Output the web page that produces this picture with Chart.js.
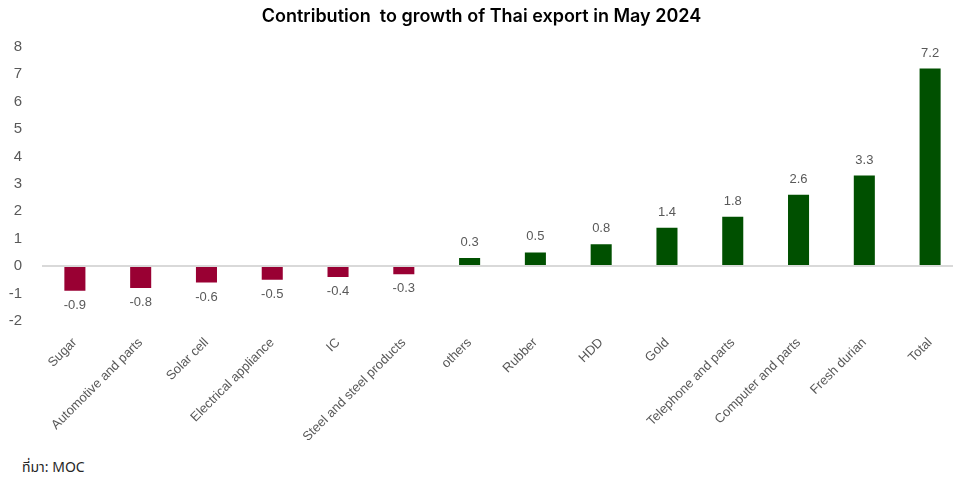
<!DOCTYPE html>
<html>
<head>
<meta charset="utf-8">
<script src="https://cdn.jsdelivr.net/npm/chart.js@4.4.1/dist/chart.umd.min.js"></script>
<style>
  html, body { margin: 0; padding: 0; background: #fff; overflow: hidden; }
  #wrap { position: absolute; left: 0; top: 0; width: 963px; height: 440px; }
  #source { position: absolute; left: 22px; top: 457px; font: 14px "Noto Sans Thai", "Noto Sans", "Liberation Sans", sans-serif; color: #262626; }
</style>
</head>
<body>
<div id="wrap"><canvas id="chart"></canvas></div>
<div id="source">ที่มา: MOC</div>
<script>
const categories = ['Sugar', 'Automotive and parts', 'Solar cell', 'Electrical appliance', 'IC',
  'Steel and steel products', 'others', 'Rubber', 'HDD', 'Gold', 'Telephone and parts',
  'Computer and parts', 'Fresh durian', 'Total'];
const contribution = [-0.9, -0.8, -0.6, -0.5, -0.4, -0.3, 0.3, 0.5, 0.8, 1.4, 1.8, 2.6, 3.3, 7.2];
const yTicks = [-2, -1, 0, 1, 2, 3, 4, 5, 6, 7, 8];

const valueLabels = {
  id: 'valueLabels',
  afterDatasetsDraw(chart) {
    const ctx = chart.ctx;
    const meta = chart.getDatasetMeta(0);
    ctx.save();
    ctx.font = '13px "Liberation Sans", Arial, sans-serif';
    ctx.fillStyle = '#595959';
    ctx.textAlign = 'center';
    meta.data.forEach((bar, i) => {
      const v = contribution[i];
      if (v >= 0) {
        ctx.textBaseline = 'bottom';
        ctx.fillText(v.toFixed(1), bar.x, bar.y - 9);
      } else {
        ctx.textBaseline = 'top';
        ctx.fillText(v.toFixed(1), bar.x, bar.y + 8);
      }
    });
    ctx.restore();
  }
};

new Chart(document.getElementById('chart').getContext('2d'), {
  type: 'bar',
  data: {
    labels: categories,
    datasets: [{
      data: contribution,
      backgroundColor: contribution.map(v => v < 0 ? '#990033' : '#005000'),
      borderWidth: 0,
      barPercentage: 0.32,
      categoryPercentage: 1
    }]
  },
  options: {
    responsive: true,
    maintainAspectRatio: false,
    animation: false,
    layout: { padding: 0 },
    plugins: {
      legend: { display: false },
      tooltip: { enabled: false },
      title: {
        display: true,
        text: 'Contribution  to growth of Thai export in May 2024',
        color: '#000',
        font: { family: 'Inter', size: 18, weight: '600' },
        padding: { top: 6, bottom: 19 }
      }
    },
    scales: {
      x: {
        grid: { display: false },
        border: { display: false },
        afterFit: s => { s.height = 119; },
        ticks: {
          color: '#595959',
          font: { family: 'Liberation Sans', size: 13 },
          minRotation: 45,
          maxRotation: 45,
          autoSkip: false,
          padding: 6
        }
      },
      y: {
        min: -2,
        max: 8,
        afterFit: s => { s.width = 42; },
        afterBuildTicks: s => { s.ticks = yTicks.map(v => ({ value: v })); },
        grid: {
          drawTicks: false,
          color: c => c.tick && c.tick.value === 0 ? '#d9d9d9' : 'rgba(0,0,0,0)',
          lineWidth: 2
        },
        border: { display: false },
        ticks: {
          color: '#595959',
          font: { family: 'Liberation Sans', size: 15 },
          padding: 20
        }
      }
    }
  },
  plugins: [valueLabels]
});
</script>
</body>
</html>
